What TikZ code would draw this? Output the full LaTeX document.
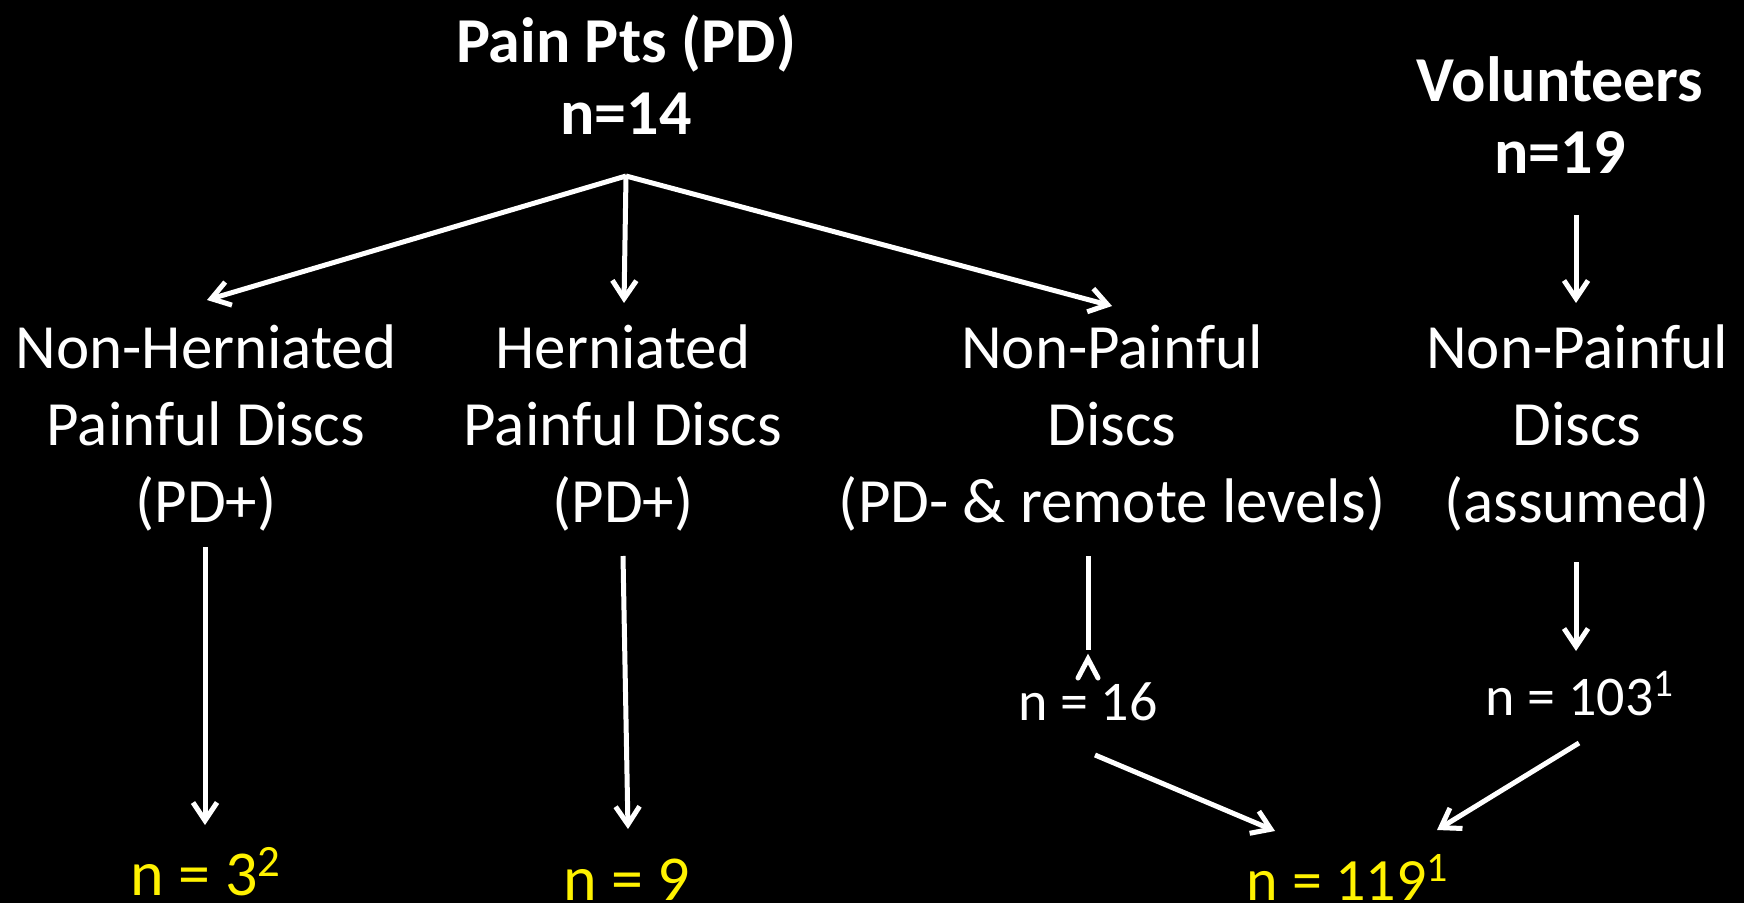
\documentclass[tikz,border=0pt]{standalone}
\usepackage{fontspec}
\setmainfont{Carlito}
\usepackage{xcolor}
\usetikzlibrary{arrows.meta,positioning,calc}

\begin{document}
\begin{tikzpicture}[x=0.5pt,y=-0.5pt,
  hd/.style={text=white,align=center,inner sep=0pt,font=\fontsize{32}{36}\selectfont\bfseries},
  grp/.style={text=white,align=center,inner sep=0pt,font=\fontsize{31.5}{38.5}\selectfont},
  cnt/.style={text=white,inner sep=0pt,anchor=base,font=\fontsize{28}{34}\selectfont},
  res/.style={cnt,text=yellow,font=\fontsize{32}{38}\selectfont},
  arr/.style={-{Straight Barb[length=9pt,width=12pt]},white,line width=2.5pt},
  ln/.style={white,line width=2.5pt}]
  \useasboundingbox (0,0) rectangle (1744,903);
  \fill[black] (0,0) rectangle (1744,903);
  % top
  \node[hd] (pain) at (626,75) {Pain Pts (PD)\\n=14};
  \node[hd] (vol) at (1560,115) {Volunteers\\n=19};
  % groups
  \node[grp] (nh) at (206,428) {Non-Herniated\\Painful Discs\\(PD+)};
  \node[grp] (h) at (623,428) {Herniated\\Painful Discs\\(PD+)};
  \node[grp] (np) at (1112,428) {Non-Painful\\Discs\\(PD- \& remote levels)};
  \node[grp] (npv) at (1577,428) {Non-Painful\\Discs\\(assumed)};
  % counts
  \node[cnt] (n16) at (1088,720) {n = 16};
  \node[cnt] (n103) at (1580,715) {n = 103\textsuperscript{1}};
  \node[res] (n3) at (206,895) {n = 3\textsuperscript{2}};
  \node[res] (n9) at (627,900) {n = 9};
  \node[res,font=\fontsize{30}{36}\selectfont] (n119) at (1348,900) {n = 119\textsuperscript{1}};
  % arrow ends
  \coordinate (br) at (626,176);
  \coordinate (nhT) at (207,300);
  \coordinate (hT) at (624,303);
  \coordinate (npT) at (1112,306);
  \coordinate (volB) at (1576,215);
  \coordinate (npvT) at (1576,303);
  \coordinate (nhB) at (205,547);
  \coordinate (n3T) at (205,825);
  \coordinate (hB) at (623,556);
  \coordinate (n9T) at (628,829);
  \coordinate (npB) at (1088,556);
  \coordinate (n16T) at (1088,650);
  \coordinate (npvB) at (1576,562);
  \coordinate (n103T) at (1576,651);
  \coordinate (n16B) at (1095,755);
  \coordinate (n103B) at (1579,743);
  \coordinate (n119L) at (1275,831);
  \coordinate (n119R) at (1437,830);
  % connectors
  \draw[arr] (br) -- (nhT);
  \draw[arr] (br) -- (hT);
  \draw[arr] (br) -- (npT);
  \draw[arr] (volB) -- (npvT);
  \draw[arr] (nhB) -- (n3T);
  \draw[arr] (hB) -- (n9T);
  \draw[ln] (npB) -- (n16T);
  \draw[ln,line cap=round,line join=miter] (1078,678) -- (1088,659) -- (1098,678);
  \draw[arr] (npvB) -- (n103T);
  \draw[arr] (n16B) -- (n119L);
  \draw[arr] (n103B) -- (n119R);
\end{tikzpicture}
\end{document}
